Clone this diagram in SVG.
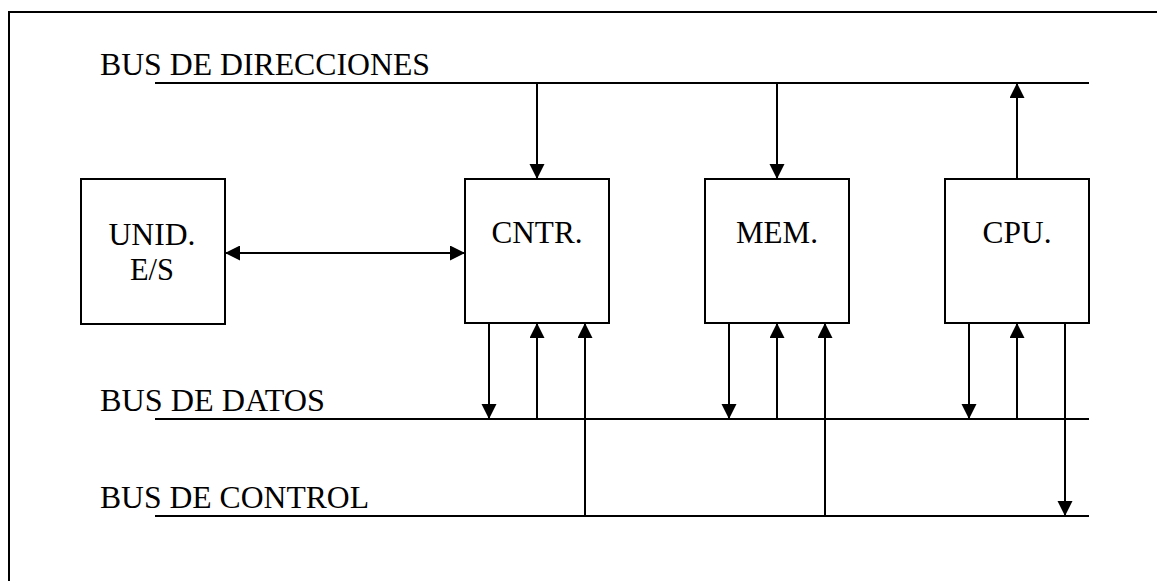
<svg xmlns="http://www.w3.org/2000/svg" width="1157" height="581" viewBox="0 0 1157 581">
<style>
.box{fill:#fff;stroke:#000;stroke-width:2}
.bus{stroke:#000;stroke-width:2;fill:none}
.con{stroke:#000;stroke-width:2;fill:none}
.arr{marker-end:url(#ah)}
.lbl{font-family:"Liberation Serif","Times New Roman",Tinos,"DejaVu Serif",serif;font-size:31px;fill:#000}
.ctr{text-anchor:middle}
</style>
<defs>
<marker id="ah" markerUnits="userSpaceOnUse" markerWidth="16" markerHeight="16" refX="15" refY="7.5" orient="auto">
<path d="M0,0 L15,7.5 L0,15 z" fill="#000"/>
</marker>
<marker id="ahs" markerUnits="userSpaceOnUse" markerWidth="16" markerHeight="16" refX="0" refY="7.5" orient="auto">
<path d="M15,0 L0,7.5 L15,15 z" fill="#000"/>
</marker>
</defs>
<rect width="1157" height="581" fill="#fff"/>
<path d="M9,581 L9,12 L1157,12" stroke="#000" stroke-width="2" fill="none"/>

<g id="buses">
<text class="lbl" x="100" y="75" textLength="330" lengthAdjust="spacingAndGlyphs">BUS DE DIRECCIONES</text>
<line class="bus" x1="155" y1="83" x2="1089" y2="83"/>
<text class="lbl" x="100" y="411" textLength="225" lengthAdjust="spacingAndGlyphs">BUS DE DATOS</text>
<line class="bus" x1="155" y1="419" x2="1089" y2="419"/>
<text class="lbl" x="100" y="508" textLength="269" lengthAdjust="spacingAndGlyphs">BUS DE CONTROL</text>
<line class="bus" x1="155" y1="516" x2="1089" y2="516"/>
</g>

<g id="unid">
<rect class="box" x="81" y="179" width="144" height="145"/>
<text class="lbl ctr" x="152" y="245" textLength="87" lengthAdjust="spacingAndGlyphs">UNID.</text>
<text class="lbl ctr" x="152" y="280" textLength="44" lengthAdjust="spacingAndGlyphs">E/S</text>
</g>
<g id="cntr">
<rect class="box" x="465" y="179" width="144" height="144"/>
<text class="lbl ctr" x="537" y="243" textLength="91" lengthAdjust="spacingAndGlyphs">CNTR.</text>
</g>
<g id="mem">
<rect class="box" x="705" y="179" width="144" height="144"/>
<text class="lbl ctr" x="777" y="243" textLength="82" lengthAdjust="spacingAndGlyphs">MEM.</text>
</g>
<g id="cpu">
<rect class="box" x="945" y="179" width="144" height="144"/>
<text class="lbl ctr" x="1017" y="243" textLength="69" lengthAdjust="spacingAndGlyphs">CPU.</text>
</g>

<g id="connectors">
<line class="con" x1="225" y1="253" x2="465" y2="253" marker-start="url(#ahs)" marker-end="url(#ah)"/>
<line class="con arr" x1="537" y1="83" x2="537" y2="179"/>
<line class="con arr" x1="777" y1="83" x2="777" y2="179"/>
<line class="con arr" x1="1017" y1="179" x2="1017" y2="83"/>
<line class="con arr" x1="489" y1="323" x2="489" y2="419"/>
<line class="con arr" x1="537" y1="419" x2="537" y2="323"/>
<line class="con arr" x1="585" y1="516" x2="585" y2="323"/>
<line class="con arr" x1="729" y1="323" x2="729" y2="419"/>
<line class="con arr" x1="777" y1="419" x2="777" y2="323"/>
<line class="con arr" x1="825" y1="516" x2="825" y2="323"/>
<line class="con arr" x1="969" y1="323" x2="969" y2="419"/>
<line class="con arr" x1="1017" y1="419" x2="1017" y2="323"/>
<line class="con arr" x1="1065" y1="323" x2="1065" y2="516"/>
</g>
</svg>
